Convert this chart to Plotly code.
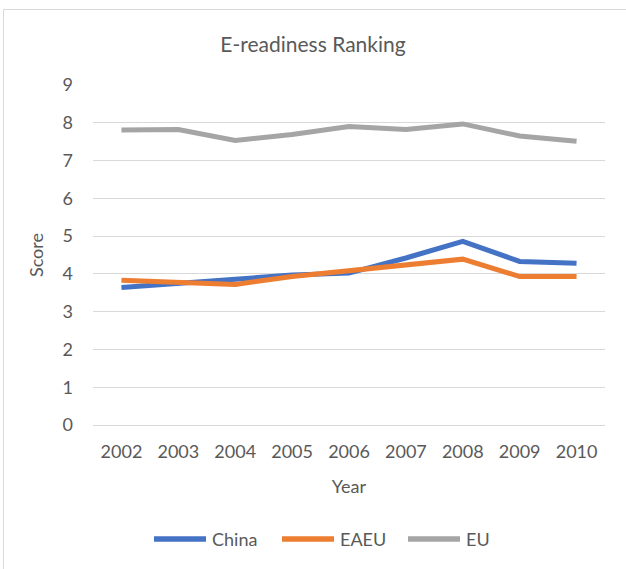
import plotly.graph_objects as go

years = ["2002", "2003", "2004", "2005", "2006", "2007", "2008", "2009", "2010"]
china = [3.64, 3.74, 3.84, 3.97, 4.02, 4.42, 4.86, 4.33, 4.28]
eaeu = [3.83, 3.78, 3.72, 3.93, 4.08, 4.25, 4.39, 3.93, 3.93]
eu = [7.81, 7.82, 7.53, 7.69, 7.90, 7.82, 7.97, 7.65, 7.51]

series = [("China", china, "#4472C4"), ("EAEU", eaeu, "#ED7D31"), ("EU", eu, "#A5A5A5")]

fig = go.Figure()
for name, vals, col in series:
    fig.add_trace(go.Scatter(x=years, y=vals, name=name, mode="lines",
                             line=dict(color=col, width=5), showlegend=False))

txt = "#595959"
fnt = "Lato"
fs = 18

# plot area geometry in pixels (for placing the custom legend / border)
L, R, T, B = 93, 605, 85, 425
W, H = R - L, B - T
def px(x):
    return (x - L) / W
def py(y):
    return (B - y) / H

shapes = [dict(type="rect", xref="paper", yref="paper",
               x0=px(3.5), x1=px(640), y0=py(590), y1=py(9.5),
               line=dict(color="#D9D9D9", width=1), fillcolor="rgba(0,0,0,0)", layer="below")]
annotations = []
leg_starts = [152, 280, 406]
leg_y = 539
for (name, vals, col), x0 in zip(series, leg_starts):
    shapes.append(dict(type="line", xref="paper", yref="paper",
                       x0=px(x0 + 2), x1=px(x0 + 54), y0=py(leg_y), y1=py(leg_y),
                       line=dict(color=col, width=5.5)))
    annotations.append(dict(text=name, xref="paper", yref="paper", x=px(x0 + 58), y=py(leg_y),
                            xanchor="left", yanchor="middle", showarrow=False,
                            font=dict(size=fs, color=txt, family=fnt)))

fig.update_layout(
    width=626, height=569,
    margin=dict(l=L, r=626 - R, t=T, b=569 - B),
    paper_bgcolor="white", plot_bgcolor="white",
    font=dict(family=fnt, color=txt, size=fs),
    title=dict(text="E-readiness Ranking", x=0.5, xanchor="center", y=1 - 45 / 569, yanchor="middle",
               font=dict(size=21, color=txt, family=fnt)),
    xaxis=dict(type="category", range=[-0.5, 8.5], showgrid=False, zeroline=False,
               showline=False, ticks="", ticklabelstandoff=14,
               tickfont=dict(size=fs, color=txt),
               title=dict(text="Year", font=dict(size=fs, color=txt), standoff=19)),
    yaxis=dict(range=[0, 9], dtick=1, showgrid=True, gridcolor="#D9D9D9", gridwidth=1,
               zeroline=True, zerolinecolor="#D9D9D9", zerolinewidth=1, showline=False,
               ticks="", ticklabelstandoff=19, tickfont=dict(size=fs, color=txt),
               title=dict(text="Score", font=dict(size=fs, color=txt), standoff=14)),
    showlegend=False,
    shapes=shapes,
    annotations=annotations,
)

fig.write_html("out.html")
